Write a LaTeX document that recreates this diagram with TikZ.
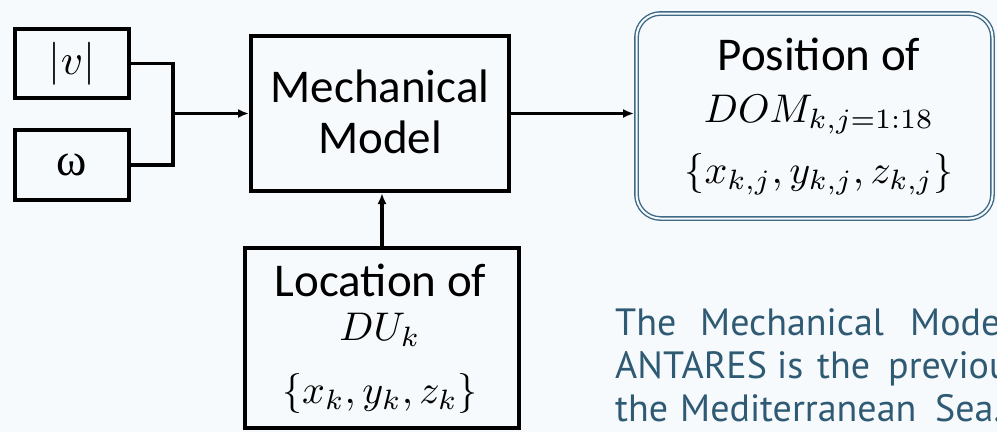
\documentclass[tikz,border=0pt]{standalone}
\usepackage{fontspec}
\newfontfamily\boxfont{Carlito}
\newfontfamily\notefont{PT Sans}
\newfontfamily\greekfont{Liberation Serif}
\usetikzlibrary{arrows.meta}
\definecolor{bg}{RGB}{247,250,253}
\definecolor{frameblue}{RGB}{62,106,133}
\definecolor{noteblue}{RGB}{46,90,115}
\newcommand{\bigmath}[1]{\scalebox{4.0}{$#1$}}

\begin{document}
\begin{tikzpicture}[x=1pt,y=-1pt,
  blockbox/.style={draw=black, line width=4pt, inner sep=0pt},
  wire/.style={line width=3.6pt},
  feed/.style={wire, -{Latex[length=11pt,width=9pt]}},
  caption/.style={font=\boxfont\fontsize{47}{56}\selectfont, anchor=base, inner sep=0pt},
  formula/.style={anchor=base, inner sep=0pt},
  word/.style={font=\notefont\fontsize{38}{45}\selectfont, text=noteblue, anchor=base west, inner sep=0pt}]

% canvas
\fill[bg] (0,0) rectangle (997,432);
\useasboundingbox (0,0) rectangle (997,432);
\clip (0,0) rectangle (997,432);

% inputs
\node[blockbox, minimum width=114pt, minimum height=69pt] (vbox) at (72,63.5) {\scalebox{4.3}{$|v|$}};
\node[blockbox, minimum width=114pt, minimum height=70pt,
      font=\greekfont\fontsize{46}{54}\selectfont] (wbox) at (72,165) {ω};

% mechanical model
\node[blockbox, minimum width=258pt, minimum height=155pt] (mech) at (380,113.5) {};
\node[caption] (mechA) at (380,102) {Mechanical};
\node[caption] (mechB) at (380,153) {Model};

% output
\node[draw=frameblue, double=bg, double distance=2pt, line width=1.4pt,
      outer sep=2.4pt, rounded corners=24pt,
      minimum width=356pt, minimum height=205pt] (posbox) at (814.5,116) {};
\node[caption] (posA) at (819,70) {Position of};
\node[formula] (posB) at (819,122) {\bigmath{DOM_{k,j=1:18}}};
\node[formula] (posC) at (819,183) {\bigmath{\left\{x_{k,j},y_{k,j},z_{k,j}\right\}}};

% detection unit location
\node[blockbox, minimum width=274pt, minimum height=180pt] (locbox) at (382,338) {};
\node[caption] (locA) at (380.5,296) {Location of};
\node[formula] (locB) at (380,340) {\bigmath{DU_k}};
\node[formula] (locC) at (380,403) {\bigmath{\{x_k,y_k,z_k\}}};

% connectors
\coordinate (join) at (173,113.5);
\draw[wire] (vbox.east) -| (join);
\draw[wire] (wbox.east) -| (join);
\draw[feed] (join) -- (join -| mech.west);
\draw[feed] (mech.east) -- (mech.east -| posbox.west);
\draw[feed] (locbox.north) -- (locbox.north |- mech.south);

% note text, justified by hand
\node[word] (n1) at (615,335) {The};
\node[word] (n2) at (700,335) {Mechanical};
\node[word] (n3) at (910,335) {Model};
\node[word] (n4) at (615,378) {ANTARES};
\node[word] (n5) at (777,378) {is};
\node[word] (n6) at (817,378) {the};
\node[word] (n7) at (888,378) {previous};
\node[word] (n8) at (615,421) {the};
\node[word] (n9) at (680,421) {Mediterranean};
\node[word] (n10) at (935,421) {Sea.};
\end{tikzpicture}
\end{document}
